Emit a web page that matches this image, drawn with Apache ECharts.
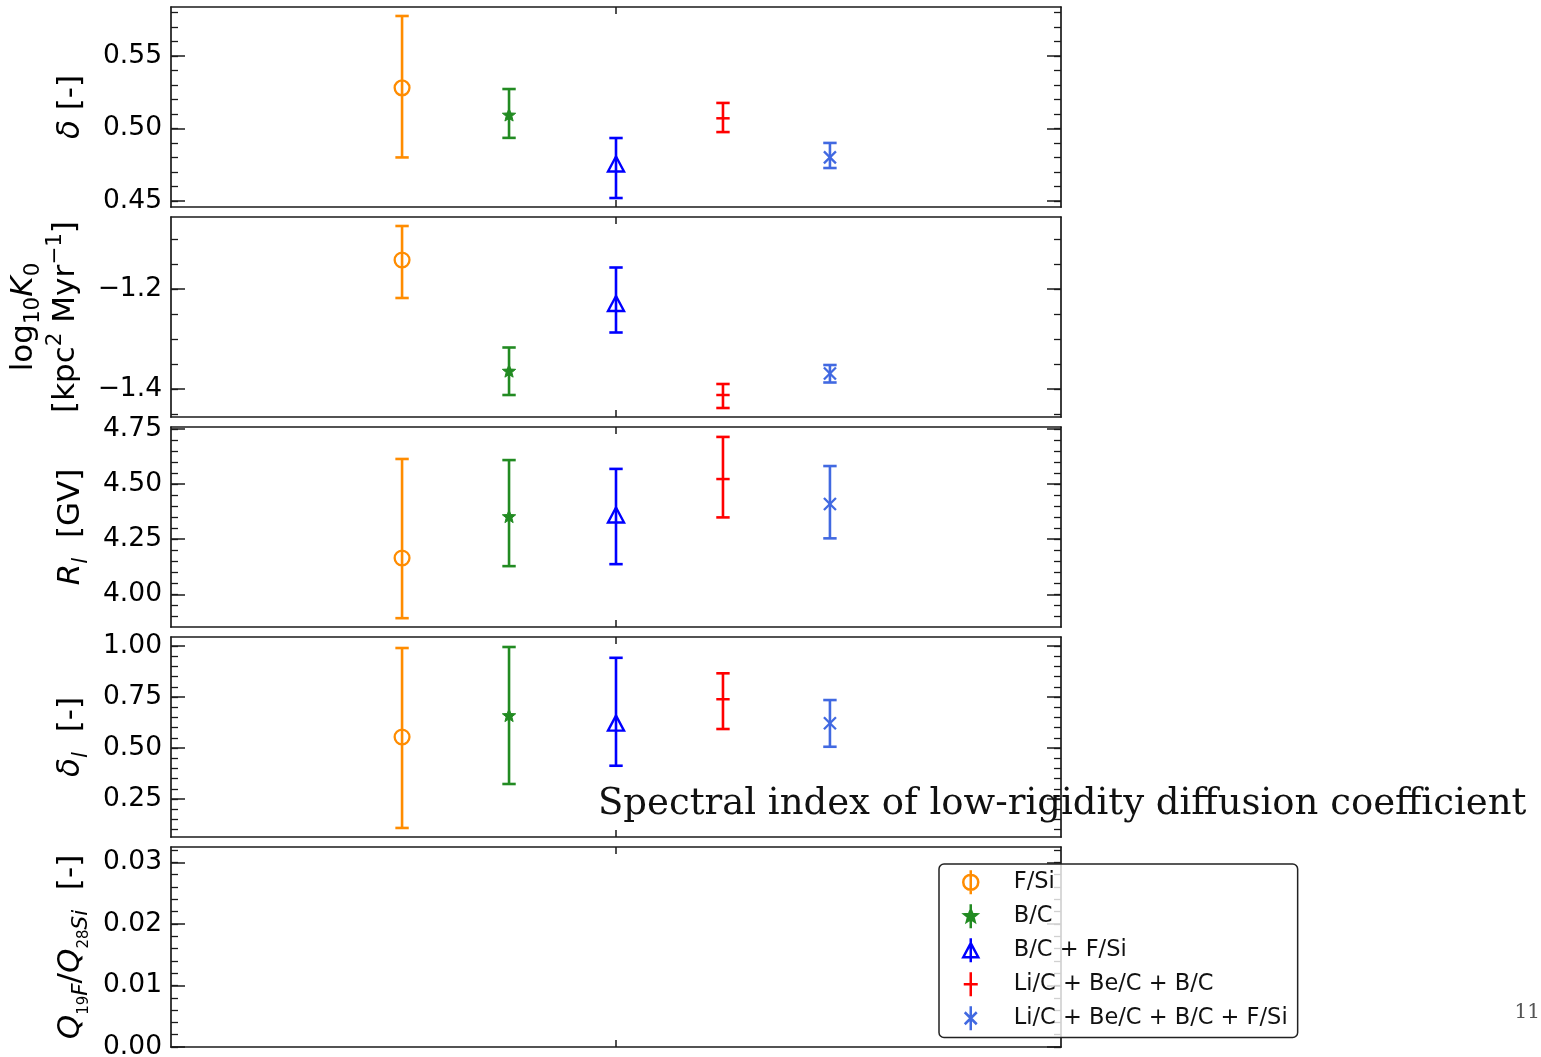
<!DOCTYPE html>
<html><head><meta charset="utf-8">
<script src="https://cdn.jsdelivr.net/npm/echarts@6/dist/echarts.min.js"></script>
<style>html,body{margin:0;padding:0;background:#fff}#c{width:1541px;height:1057px}</style>
</head><body><div id="c"></div>
<script>
// ---------------- data ----------------
const sources = ['F/Si', 'B/C', 'B/C + F/Si', 'Li/C + Be/C + B/C', 'Li/C + Be/C + B/C + F/Si'];
const xPos = [0, 1, 2, 3, 4];
const xTickVals = [2];

// panel 1: delta [-]
const deltaMid  = [0.528, 0.509, 0.4755, 0.507, 0.480];
const deltaLow  = [0.480, 0.4935, 0.452, 0.4975, 0.4727];
const deltaHigh = [0.5776, 0.5272, 0.4934, 0.5176, 0.490];
// panel 2: log10 K0
const logK0Mid  = [-1.142, -1.365, -1.229, -1.412, -1.369];
const logK0Low  = [-1.218, -1.412, -1.287, -1.438, -1.387];
const logK0High = [-1.074, -1.317, -1.157, -1.390, -1.352];
// panel 3: R_l [GV]
const rlMid  = [4.165, 4.351, 4.360, 4.523, 4.410];
const rlLow  = [3.892, 4.128, 4.137, 4.349, 4.254];
const rlHigh = [4.614, 4.609, 4.569, 4.714, 4.582];
// panel 4: delta_l [-]
const dlMid  = [0.554, 0.657, 0.622, 0.739, 0.621];
const dlLow  = [0.108, 0.3235, 0.413, 0.593, 0.506];
const dlHigh = [0.990, 0.995, 0.942, 0.866, 0.735];
// panel 5: Q19F/Q28Si — no points drawn
const qMid = [], qLow = [], qHigh = [];

// tick labels
const deltaTicks = [0.45, 0.50, 0.55];
const logK0Ticks = [-1.4, -1.2];
const rlTicks = [4.00, 4.25, 4.50, 4.75];
const dlTicks = [0.25, 0.50, 0.75, 1.00];
const qTicks = [0.00, 0.01, 0.02, 0.03];

// ---------------- styling ----------------
const colors = ['#FF8C00', '#228B22', '#0000FF', '#FF0000', '#4169E1'];
const markers = ['circle', 'star', 'triangle', 'hline', 'x'];
const AX = '#1a1a1a';
const FONT = 'DejaVu Sans';
const NAME_FS = 31, NAME_LH = 42, SUB_FS = 21.5;

function steps(from, to, step) {
  const out = [];
  const n = Math.round((to - from) / step);
  for (let i = 0; i <= n; i++) out.push(+(from + i * step).toFixed(6));
  return out;
}

const panels = [
  { min: 0.4458, max: 0.5838, ticks: deltaTicks, minors: steps(0.45, 0.58, 0.01), fmt: v => v.toFixed(2),
    name: '{i|δ} [-]', gap: 68, mid: deltaMid, low: deltaLow, high: deltaHigh },
  { min: -1.456, max: -1.056, ticks: logK0Ticks, minors: steps(-1.45, -1.10, 0.05),
    fmt: v => (v < 0 ? '\u2212' : '') + Math.abs(v).toFixed(1),
    name: 'log{sub|10}{i|K}{sub|0}\n[kpc{sup|2} Myr{sup|\u22121}]', gap: 72, mid: logK0Mid, low: logK0Low, high: logK0High },
  { min: 3.852, max: 4.759, ticks: rlTicks, minors: steps(3.90, 4.75, 0.05), fmt: v => v.toFixed(2),
    name: '{i|R}{subi|l}  [GV]', gap: 71, mid: rlMid, low: rlLow, high: rlHigh },
  { min: 0.0637, max: 1.044, ticks: dlTicks, minors: steps(0.10, 1.00, 0.05), fmt: v => v.toFixed(2),
    name: '{i|δ}{subi|l}  [-]', gap: 71, mid: dlMid, low: dlLow, high: dlHigh },
  { min: 0, max: 0.0325, ticks: qTicks, minors: steps(0, 0.032, 0.002), fmt: v => v.toFixed(2),
    name: '{i|Q}{ss|19}{subi|F}/{i|Q}{ss|28}{subi|Si}  [-]', gap: 72, mid: qMid, low: qLow, high: qHigh }
];

const nameRich = {
  i: { fontSize: NAME_FS, fontStyle: 'italic', lineHeight: NAME_LH, fontFamily: FONT, color: '#000' },
  sub: { fontSize: SUB_FS, lineHeight: 21, verticalAlign: 'bottom', fontFamily: FONT, color: '#000' },
  subi: { fontSize: SUB_FS, fontStyle: 'italic', lineHeight: 21, verticalAlign: 'bottom', fontFamily: FONT, color: '#000' },
  sup: { fontSize: SUB_FS, lineHeight: 21, verticalAlign: 'top', fontFamily: FONT, color: '#000' },
  ss: { fontSize: 15, lineHeight: 36, verticalAlign: 'bottom', fontFamily: FONT, color: '#000' }
};

function markerShape(kind, x, y, color) {
  if (kind === 'circle') {
    return { type: 'circle', shape: { cx: x, cy: y, r: 7.4 }, style: { stroke: color, lineWidth: 2.3, fill: 'transparent' } };
  }
  if (kind === 'star') {
    const pts = [];
    for (let k = 0; k < 10; k++) {
      const r = k % 2 === 0 ? 7 : 3;
      const a = -Math.PI / 2 + k * Math.PI / 5;
      pts.push([x + r * Math.cos(a), y + r * Math.sin(a)]);
    }
    return { type: 'polygon', shape: { points: pts }, style: { fill: color, stroke: color, lineWidth: 1 } };
  }
  if (kind === 'triangle') {
    return { type: 'polygon', shape: { points: [[x, y - 7.5], [x - 8, y + 7.5], [x + 8, y + 7.5]] },
      style: { stroke: color, lineWidth: 2.4, fill: 'transparent' } };
  }
  if (kind === 'hline') {
    return { type: 'line', shape: { x1: x - 6.7, y1: y, x2: x + 6.7, y2: y }, style: { stroke: color, lineWidth: 2.5 } };
  }
  return { type: 'group', children: [
    { type: 'line', shape: { x1: x - 6, y1: y - 6, x2: x + 6, y2: y + 6 }, style: { stroke: color, lineWidth: 2.3 } },
    { type: 'line', shape: { x1: x - 6, y1: y + 6, x2: x + 6, y2: y - 6 }, style: { stroke: color, lineWidth: 2.3 } }
  ] };
}

function makeRender(kind, color) {
  return function (params, api) {
    const x = api.value(0);
    const c = api.coord([x, api.value(1)]);
    const lo = api.coord([x, api.value(2)]);
    const hi = api.coord([x, api.value(3)]);
    const st = { stroke: color, lineWidth: 2.6, fill: null };
    const cap = 6.7;
    return { type: 'group', children: [
      { type: 'line', shape: { x1: c[0], y1: lo[1], x2: c[0], y2: hi[1] }, style: st },
      { type: 'line', shape: { x1: c[0] - cap, y1: lo[1], x2: c[0] + cap, y2: lo[1] }, style: st },
      { type: 'line', shape: { x1: c[0] - cap, y1: hi[1], x2: c[0] + cap, y2: hi[1] }, style: st },
      markerShape(kind, c[0], c[1], color)
    ] };
  };
}

const grids = [], xAxes = [], yAxes = [], series = [];
panels.forEach((p, i) => {
  grids.push({ left: 171, right: 480, top: 7 + 210 * i, height: 200, containLabel: false, outerBoundsMode: 'none' });
  ['bottom', 'top'].forEach(pos => xAxes.push({
    gridIndex: i, type: 'value', position: pos, min: -2.16, max: 6.16,
    axisLine: { show: true, onZero: false, lineStyle: { color: AX, width: 1.7 } },
    axisTick: { show: true, inside: true, length: 7, customValues: xTickVals, lineStyle: { color: AX, width: 1.5 } },
    axisLabel: { show: false }, splitLine: { show: false }
  }));
  yAxes.push({
    gridIndex: i, type: 'value', position: 'left', min: p.min, max: p.max,
    name: p.name, nameLocation: 'middle', nameRotate: 90, nameGap: p.gap,
    nameTextStyle: { fontSize: NAME_FS, lineHeight: NAME_LH, fontFamily: FONT, color: '#000', rich: nameRich },
    axisLine: { show: true, onZero: false, lineStyle: { color: AX, width: 1.7 } },
    axisTick: { show: true, inside: true, length: 14, customValues: p.ticks, lineStyle: { color: AX, width: 1.5 } },
    axisLabel: { show: true, customValues: p.ticks, formatter: p.fmt, margin: 9, fontSize: 26.5, fontFamily: FONT, color: '#000' },
    splitLine: { show: false }
  });
  yAxes.push({
    gridIndex: i, type: 'value', position: 'left', min: p.min, max: p.max,
    axisLine: { show: false, onZero: false },
    axisTick: { show: true, inside: true, length: 7, customValues: p.minors, lineStyle: { color: AX, width: 1.3 } },
    axisLabel: { show: false }, splitLine: { show: false }
  });
  yAxes.push({
    gridIndex: i, type: 'value', position: 'right', min: p.min, max: p.max,
    axisLine: { show: true, onZero: false, lineStyle: { color: AX, width: 1.7 } },
    axisTick: { show: true, inside: true, length: 14, customValues: p.ticks, lineStyle: { color: AX, width: 1.5 } },
    axisLabel: { show: false }, splitLine: { show: false }
  });
  yAxes.push({
    gridIndex: i, type: 'value', position: 'right', min: p.min, max: p.max,
    axisLine: { show: false, onZero: false },
    axisTick: { show: true, inside: true, length: 7, customValues: p.minors, lineStyle: { color: AX, width: 1.3 } },
    axisLabel: { show: false }, splitLine: { show: false }
  });
  sources.forEach((s, k) => {
    if (p.mid[k] === undefined) return;
    series.push({
      type: 'custom', name: s, xAxisIndex: 2 * i, yAxisIndex: 4 * i,
      itemStyle: { color: colors[k] },
      encode: { x: 0, y: [1, 2, 3] },
      renderItem: makeRender(markers[k], colors[k]),
      data: [[xPos[k], p.mid[k], p.low[k], p.high[k]]],
      z: 3
    });
  });
});

function starPath() {
  let d = 'M8,0L8,24';
  for (let k = 0; k < 10; k++) {
    const r = k % 2 === 0 ? 6.5 : 2.8;
    const a = -Math.PI / 2 + k * Math.PI / 5;
    d += (k === 0 ? 'M' : 'L') + (8 + r * Math.cos(a)).toFixed(2) + ',' + (12 + r * Math.sin(a)).toFixed(2);
  }
  return 'path://' + d + 'Z';
}
const legendIcons = [
  'path://M8,0L8,24M0.5,12A7.5,7.5,0,1,0,15.5,12A7.5,7.5,0,1,0,0.5,12Z',
  starPath(),
  'path://M8,0L8,24M0.5,19L8,5L15.5,19Z',
  'path://M8,0L8,24M1,12L15,12',
  'path://M8,0L8,24M2,6L14,18M14,6L2,18'
];
const legendFill = ['transparent', colors[1], 'transparent', 'transparent', 'transparent'];

const option = {
  animation: false,
  backgroundColor: '#fff',
  title: [
    { text: 'Spectral index of low-rigidity diffusion coefficient', left: 598, top: 786, padding: 0,
      textStyle: { fontFamily: 'DejaVu Serif', fontSize: 37, fontWeight: 'normal', color: '#111' } },
    { text: '11', right: 1, top: 1003, padding: 0,
      textStyle: { fontFamily: 'DejaVu Serif', fontSize: 20, fontWeight: 'normal', color: '#555' } }
  ],
  legend: {
    orient: 'vertical', left: 939, top: 864, padding: [5, 10, 6, 23],
    itemWidth: 16, itemHeight: 24, itemGap: 7.5,
    backgroundColor: 'rgba(255,255,255,0.8)', borderColor: '#222', borderWidth: 1.5, borderRadius: 5,
    formatter: name => '{g| }' + name,
    textStyle: { fontFamily: FONT, fontSize: 22.5, color: '#111', lineHeight: 24,
      rich: { g: { width: 30, lineHeight: 24, fontSize: 22.5 } } },
    selectedMode: false,
    data: sources.map((s, k) => ({
      name: s, icon: legendIcons[k],
      itemStyle: { color: legendFill[k], borderColor: colors[k], borderWidth: 2.5 }
    }))
  },
  grid: grids, xAxis: xAxes, yAxis: yAxes, series: series
};
const chart = echarts.init(document.getElementById('c'), null, { renderer: 'canvas' });
chart.setOption(option);
</script>
</body></html>
